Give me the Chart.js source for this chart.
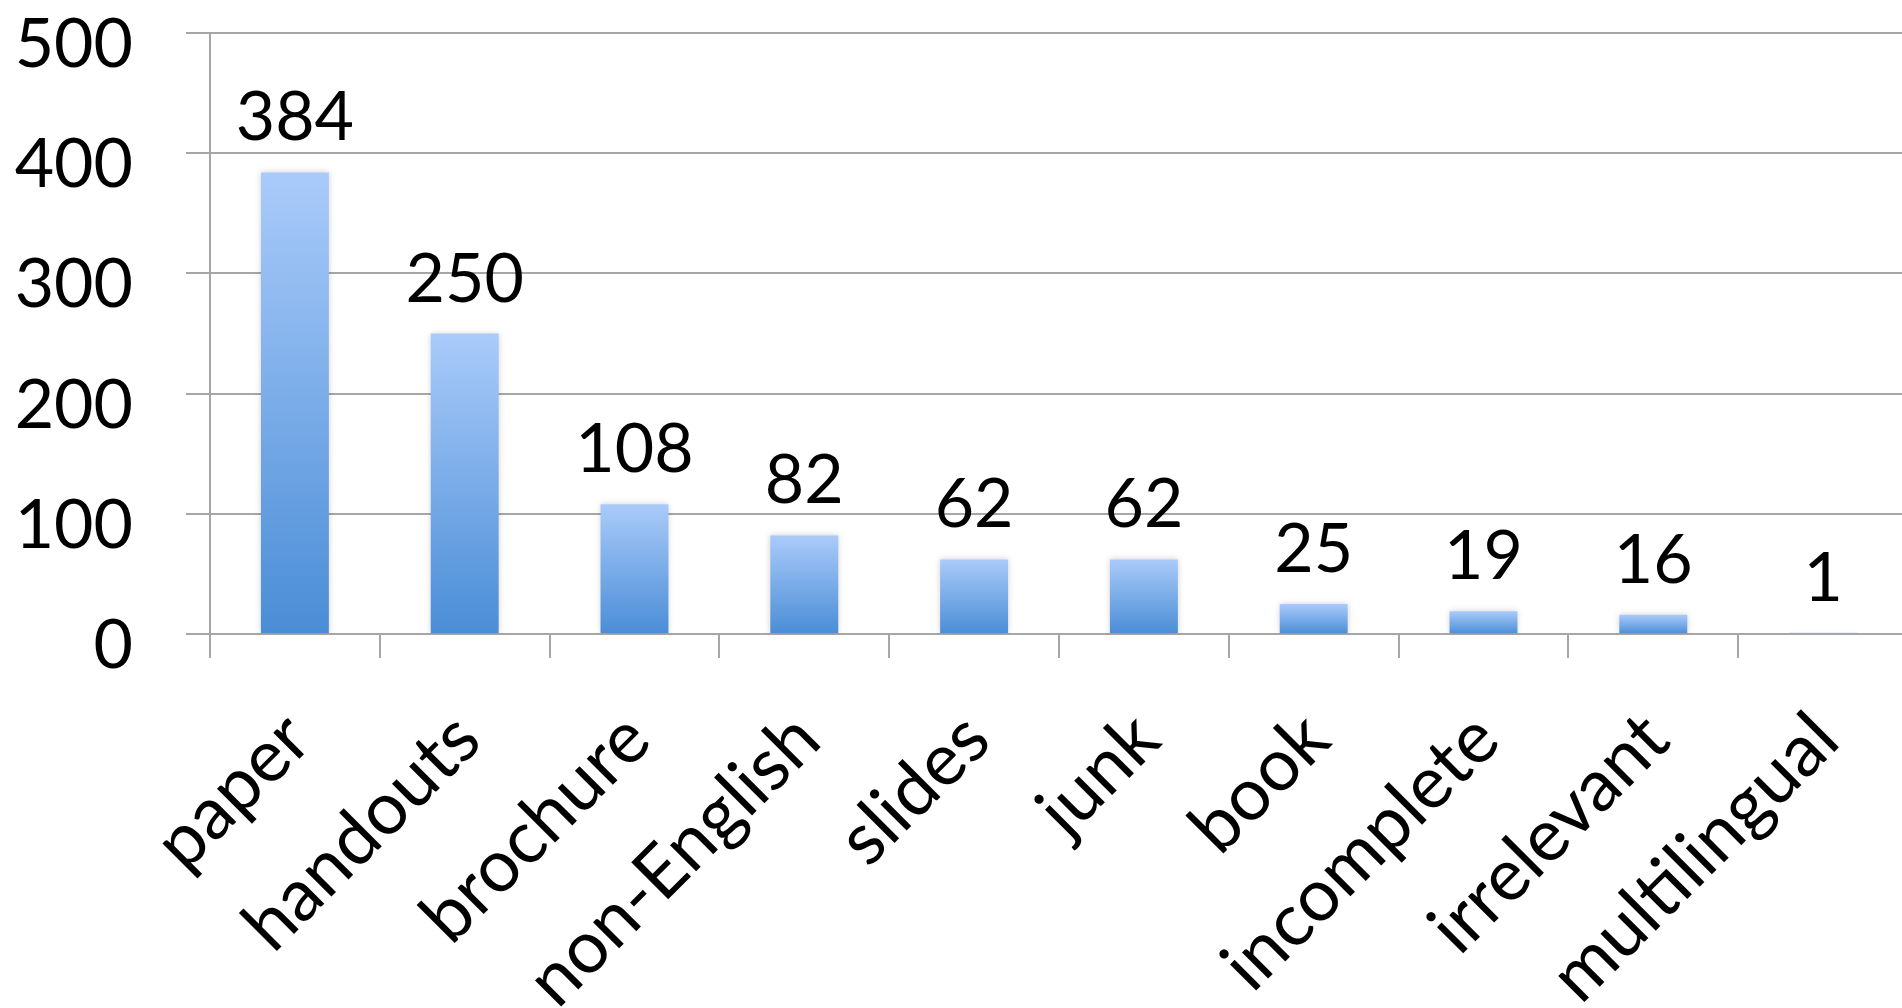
<!DOCTYPE html>
<html>
<head>
<meta charset="utf-8">
<script src="https://cdn.jsdelivr.net/npm/chart.js@4"></script>
<style>
  html, body { margin: 0; padding: 0; background: #fff; overflow: hidden; }
  #wrap { width: 1912px; height: 1008px; }
</style>
</head>
<body>
<div id="wrap"><canvas id="docChart" width="1912" height="1008"></canvas></div>
<script>
const categories = ['paper', 'handouts', 'brochure', 'non-English', 'slides', 'junk', 'book', 'incomplete', 'irrelevant', 'multilingual'];
const counts = [384, 250, 108, 82, 62, 62, 25, 19, 16, 1];
const yTicks = [0, 100, 200, 300, 400, 500];

const FONT = 'Lato, "Open Sans", sans-serif';
const GRID = '#a6a6a6';

// each bar gets its own light-to-dark vertical gradient
function barFill(ctx) {
  const chart = ctx.chart;
  const y = chart.scales.y;
  if (!chart.chartArea || !y || ctx.raw == null) return '#6a9fe0';
  const top = y.getPixelForValue(ctx.raw);
  const bottom = y.getPixelForValue(0);
  const g = chart.ctx.createLinearGradient(0, top, 0, bottom);
  g.addColorStop(0, '#aacbfa');
  g.addColorStop(1, '#4a8dd6');
  return g;
}

// soft shadow round the bars
const barShadow = {
  id: 'barShadow',
  beforeDatasetsDraw(chart) {
    const c = chart.ctx;
    c.save();
    c.shadowColor = 'rgba(0,0,0,0.18)';
    c.shadowBlur = 6;
  },
  afterDatasetsDraw(chart) {
    chart.ctx.restore();
  }
};

// value written above each bar
const valueLabels = {
  id: 'valueLabels',
  afterDatasetsDraw(chart) {
    const c = chart.ctx;
    const meta = chart.getDatasetMeta(0);
    c.save();
    c.font = '68px ' + FONT;
    c.fillStyle = '#000';
    c.textAlign = 'center';
    c.textBaseline = 'alphabetic';
    meta.data.forEach((bar, i) => {
      c.fillText(String(counts[i]), bar.x, bar.y - 32);
    });
    c.restore();
  }
};

new Chart(document.getElementById('docChart'), {
  type: 'bar',
  data: {
    labels: categories,
    datasets: [{
      data: counts,
      backgroundColor: barFill,
      borderWidth: 0,
      categoryPercentage: 1.0,
      barPercentage: 0.4
    }]
  },
  options: {
    responsive: false,
    animation: false,
    layout: { padding: { top: 33, right: 4, left: 0, bottom: 0 } },
    plugins: {
      legend: { display: false },
      tooltip: { enabled: false }
    },
    scales: {
      x: {
        grid: {
          offset: true,
          drawOnChartArea: false,
          drawTicks: true,
          tickLength: 24,
          color: GRID,
          lineWidth: 2
        },
        border: { color: GRID, width: 2 },
        ticks: {
          autoSkip: false,
          minRotation: 45,
          maxRotation: 45,
          padding: 38,
          labelOffset: 3,
          color: '#000',
          font: { family: FONT, size: 73 }
        },
        afterFit(scale) {
          scale.height = 374;
          scale.paddingLeft = 0;
          scale.paddingRight = 0;
        }
      },
      y: {
        min: 0,
        max: 500,
        afterBuildTicks(scale) {
          scale.ticks = yTicks.map(v => ({ value: v }));
        },
        grid: {
          color: GRID,
          lineWidth: 2,
          tickLength: 24
        },
        border: { color: GRID, width: 2 },
        ticks: {
          padding: 53,
          labelOffset: 12,
          color: '#000',
          font: { family: FONT, size: 68 }
        },
        afterFit(scale) {
          scale.width = 210;
          scale.paddingTop = 0;
          scale.paddingBottom = 0;
        }
      }
    }
  },
  plugins: [barShadow, valueLabels]
});
</script>
</body>
</html>
